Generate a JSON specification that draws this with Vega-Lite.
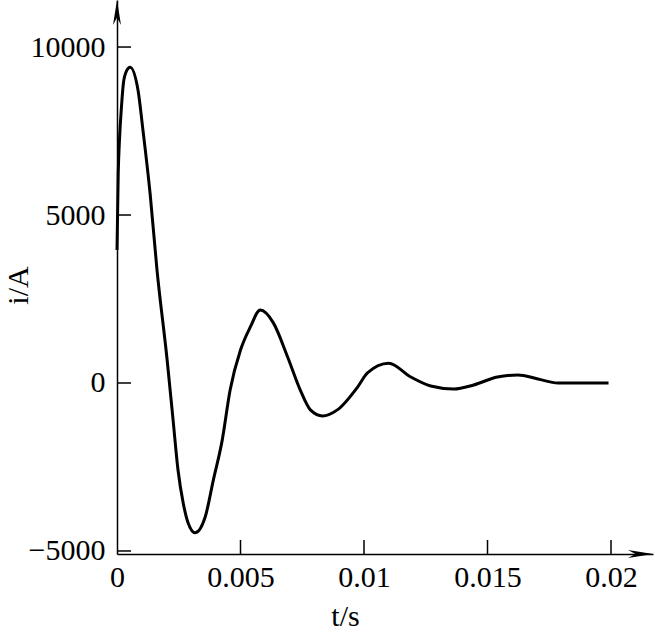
{
  "$schema": "https://vega.github.io/schema/vega-lite/v6.json",
  "width": 536,
  "height": 554,
  "autosize": "none",
  "padding": {"left": 117, "top": 0, "right": 2, "bottom": 78},
  "background": "white",
  "config": {
    "view": {"stroke": null},
    "font": "Liberation Serif",
    "axis": {
      "grid": false,
      "labelFlush": false,
      "labelOverlap": false,
      "domainColor": "black",
      "domainWidth": 1.5,
      "tickColor": "black",
      "tickWidth": 1.5,
      "labelFont": "Liberation Serif",
      "labelFontSize": 30,
      "labelColor": "black",
      "titleFont": "Liberation Serif",
      "titleFontSize": 30,
      "titleFontWeight": "normal",
      "titleColor": "black"
    }
  },
  "datasets": {
    "curve": [
      {"t": 0, "i": 3960},
      {"t": 0.00005, "i": 6250},
      {"t": 0.0001, "i": 7230},
      {"t": 0.00018, "i": 8210},
      {"t": 0.00026, "i": 8930},
      {"t": 0.00038, "i": 9280},
      {"t": 0.00053, "i": 9400},
      {"t": 0.00085, "i": 8720},
      {"t": 0.00105, "i": 7530},
      {"t": 0.00134, "i": 5640},
      {"t": 0.00162, "i": 3360},
      {"t": 0.00203, "i": 685},
      {"t": 0.00227, "i": -1100},
      {"t": 0.00247, "i": -2590},
      {"t": 0.00268, "i": -3570},
      {"t": 0.00288, "i": -4170},
      {"t": 0.00316, "i": -4460},
      {"t": 0.00357, "i": -3990},
      {"t": 0.0039, "i": -2890},
      {"t": 0.00426, "i": -1700},
      {"t": 0.00458, "i": -210},
      {"t": 0.005, "i": 980},
      {"t": 0.0054, "i": 1670},
      {"t": 0.0058, "i": 2170},
      {"t": 0.00633, "i": 1790},
      {"t": 0.0069, "i": 790},
      {"t": 0.00742, "i": -210},
      {"t": 0.00783, "i": -800},
      {"t": 0.00832, "i": -980},
      {"t": 0.00892, "i": -800},
      {"t": 0.00974, "i": -120},
      {"t": 0.01014, "i": 300},
      {"t": 0.011, "i": 590},
      {"t": 0.01189, "i": 180},
      {"t": 0.0127, "i": -90},
      {"t": 0.01363, "i": -180},
      {"t": 0.01444, "i": -60},
      {"t": 0.0154, "i": 180},
      {"t": 0.01623, "i": 240},
      {"t": 0.01704, "i": 120},
      {"t": 0.01785, "i": 0},
      {"t": 0.0199, "i": 0}
    ],
    "arrows": [
      {"t": 0.0217, "i": -5090, "dir": "right"},
      {"t": 0, "i": 11400, "dir": "up"}
    ],
    "ticks": [
      {"t": 0.005, "i": -5090, "o": "x"},
      {"t": 0.01, "i": -5090, "o": "x"},
      {"t": 0.015, "i": -5090, "o": "x"},
      {"t": 0.02, "i": -5090, "o": "x"},
      {"t": 0, "i": -5000, "o": "y"},
      {"t": 0, "i": 0, "o": "y"},
      {"t": 0, "i": 5000, "o": "y"},
      {"t": 0, "i": 10000, "o": "y"}
    ]
  },
  "encoding": {
    "x": {
      "field": "t",
      "type": "quantitative",
      "scale": {"domain": [0, 0.0217], "nice": false, "zero": false},
      "axis": {
        "values": [0, 0.005, 0.01, 0.015, 0.02],
        "format": "~g",
        "title": "t/s",
        "ticks": false,
        "tickSize": 0,
        "labelPadding": 8,
        "labelBaseline": "top",
        "titleX": 228,
        "titleY": 71,
        "titleBaseline": "alphabetic",
        "titleAnchor": "middle",
        "titleAlign": "center"
      }
    },
    "y": {
      "field": "i",
      "type": "quantitative",
      "scale": {"domain": [-5090, 11400], "nice": false, "zero": false},
      "axis": {
        "values": [-5000, 0, 5000, 10000],
        "format": "d",
        "title": "i/A",
        "ticks": false,
        "tickSize": 0,
        "labelPadding": 12,
        "titleX": -90,
        "titleY": 285,
        "titleBaseline": "alphabetic",
        "titleAngle": -90,
        "titleAlign": "center"
      }
    }
  },
  "layer": [
    {
      "data": {"name": "curve"},
      "mark": {"type": "line", "color": "black", "strokeWidth": 3, "interpolate": "monotone"}
    },
    {
      "data": {"name": "ticks"},
      "transform": [{"filter": "datum.o === 'x'"}],
      "mark": {"type": "tick", "orient": "vertical", "color": "black", "opacity": 1, "size": 28, "thickness": 1.5, "clip": true}
    },
    {
      "data": {"name": "ticks"},
      "transform": [{"filter": "datum.o === 'y'"}],
      "mark": {"type": "tick", "orient": "horizontal", "color": "black", "opacity": 1, "size": 28, "thickness": 1.5, "clip": true}
    },
    {
      "data": {"name": "arrows"},
      "mark": {"type": "point", "filled": true, "opacity": 1, "size": 625, "clip": false},
      "encoding": {
        "shape": {
          "field": "dir",
          "type": "nominal",
          "scale": {"domain": ["right", "up"], "range": ["M0,0L-2,-0.32L-1.4,0L-2,0.32Z", "M0,0L-0.32,2L0,1.4L0.32,2Z"]},
          "legend": null
        },
        "color": {"value": "black"}
      }
    }
  ]
}
